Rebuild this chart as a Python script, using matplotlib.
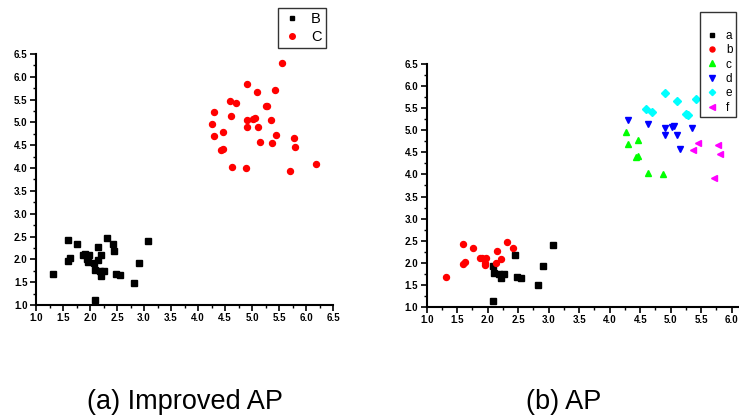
import matplotlib
matplotlib.use("Agg")
import matplotlib.pyplot as plt
from matplotlib.ticker import MultipleLocator
from matplotlib.lines import Line2D

plt.rcParams['font.family'] = ['Liberation Sans', 'DejaVu Sans']

# ---- cluster data ----
a_x = [2.08, 2.10, 2.09, 2.19, 2.21, 2.26, 2.44, 2.48, 2.55, 2.82, 2.90, 3.07]
a_y = [1.93, 1.77, 1.12, 1.75, 1.64, 1.75, 2.18, 1.67, 1.65, 1.49, 1.93, 2.41]
b_x = [1.32, 1.60, 1.59, 1.63, 1.76, 1.87, 1.91, 1.95, 1.96, 1.98, 2.14, 2.15, 2.21, 2.31, 2.42]
b_y = [1.68, 2.43, 1.97, 2.02, 2.33, 2.10, 2.11, 2.00, 1.94, 2.10, 1.99, 2.27, 2.09, 2.46, 2.33]
c_x = [4.26, 4.30, 4.47, 4.43, 4.46, 4.63, 4.88]
c_y = [4.96, 4.70, 4.78, 4.39, 4.42, 4.03, 4.01]
d_x = [4.30, 4.62, 4.91, 4.91, 5.02, 5.05, 5.11, 5.15, 5.35]
d_y = [5.24, 5.15, 5.05, 4.90, 5.07, 5.09, 4.90, 4.58, 5.06]
e_x = [4.91, 5.10, 5.42, 4.60, 4.70, 5.25, 5.28, 5.56]
e_y = [5.85, 5.67, 5.72, 5.48, 5.42, 5.37, 5.36, 6.30]
f_x = [5.45, 5.77, 5.80, 5.37, 5.71, 6.19]
f_y = [4.72, 4.66, 4.46, 4.55, 3.93, 4.10]

B_x = a_x + b_x
B_y = a_y + b_y
C_x = c_x + d_x + e_x + f_x
C_y = c_y + d_y + e_y + f_y

captions = ["(a) Improved AP", "(b) AP"]
W, H = 739, 418
fig = plt.figure(figsize=(W / 100, H / 100), dpi=100)


def style(ax):
    ax.set_xlim(1.0, 6.5)
    ax.set_ylim(1.0, 6.5)
    ax.xaxis.set_major_locator(MultipleLocator(0.5))
    ax.yaxis.set_major_locator(MultipleLocator(0.5))
    ax.xaxis.set_minor_locator(MultipleLocator(0.25))
    ax.yaxis.set_minor_locator(MultipleLocator(0.25))
    for s in ['top', 'right']:
        ax.spines[s].set_visible(False)
    for s in ['left', 'bottom']:
        ax.spines[s].set_linewidth(1.5)
    ax.tick_params(which='major', direction='out', length=4, width=1.2, pad=2,
                   labelsize=7)
    ax.tick_params(which='minor', direction='out', length=2, width=1.0)
    ax.xaxis.set_major_formatter(plt.FormatStrFormatter('%.1f'))
    ax.yaxis.set_major_formatter(plt.FormatStrFormatter('%.1f'))
    for lab in ax.get_xticklabels() + ax.get_yticklabels():
        lab.set_fontweight('bold')


# ---- left panel ----
ax1 = fig.add_axes([36 / W, 1 - 305 / H, 297 / W, 251 / H])
ax1.plot(B_x, B_y, 's', color='black', ms=4.0, ls='none', label='B', clip_on=False)
ax1.plot(C_x, C_y, 'o', color='red', ms=4.3, ls='none', label='C', clip_on=False)
style(ax1)
leg1 = fig.legend(handles=[Line2D([], [], marker='s', color='black', ls='none', ms=3.5),
                           Line2D([], [], marker='o', color='red', ls='none', ms=4)],
                  labels=['B', 'C'], loc='upper right', bbox_to_anchor=(326 / W, 1 - 8 / H),
                  fontsize=10.5, frameon=True, fancybox=False, edgecolor='#333333',
                  framealpha=1, handlelength=1.4, handletextpad=0.6, labelspacing=0.25,
                  borderpad=0.3, borderaxespad=0)
leg1.get_frame().set_linewidth(1.0)

# ---- right panel ----
ax2 = fig.add_axes([426.7 / W, 1 - 306.7 / H, 335.5 / W, 242.4 / H])
ax2.plot(a_x, a_y, 's', color='black', ms=3.9, ls='none')
ax2.plot(b_x, b_y, 'o', color='red', ms=4.3, ls='none')
ax2.plot(c_x, c_y, '^', color='#00ff00', ms=4.8, ls='none')
ax2.plot(d_x, d_y, 'v', color='#0000ff', ms=4.8, ls='none')
ax2.plot(e_x, e_y, 'D', color='#00ffff', ms=3.8, ls='none')
ax2.plot(f_x, f_y, '<', color='#ff00ff', ms=4.8, ls='none')
style(ax2)
h2 = [Line2D([], [], marker='s', color='black', ls='none', ms=3.2),
      Line2D([], [], marker='o', color='red', ls='none', ms=3.6),
      Line2D([], [], marker='^', color='#00ff00', ls='none', ms=4),
      Line2D([], [], marker='v', color='#0000ff', ls='none', ms=4),
      Line2D([], [], marker='D', color='#00ffff', ls='none', ms=3.2),
      Line2D([], [], marker='<', color='#ff00ff', ls='none', ms=4)]
leg2 = fig.legend(handles=h2, labels=['a', 'b', 'c', 'd', 'e', 'f'], loc='upper left',
                  bbox_to_anchor=(700 / W, 1 - 12 / H), fontsize=8.5, frameon=True,
                  fancybox=False, edgecolor='#333333', framealpha=1, handlelength=1.4,
                  handletextpad=0.5, labelspacing=0.2, borderpad=0.3, borderaxespad=0,
                  title=' ', title_fontsize=9)
leg2.get_frame().set_linewidth(1.0)
leg2.set_zorder(10)

# ---- captions ----
fig.text(185 / W, 1 - 409 / H, captions[0], ha='center', va='baseline', fontsize=19.5)
fig.text(564 / W, 1 - 409 / H, captions[1], ha='center', va='baseline', fontsize=19.5)

fig.savefig('out.png', dpi=100)
